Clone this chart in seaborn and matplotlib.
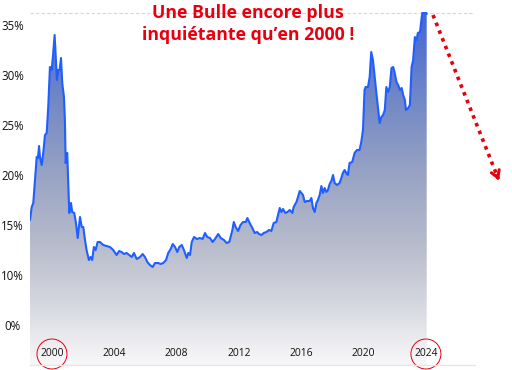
import numpy as np
import pandas as pd
import matplotlib
matplotlib.use("Agg")
import matplotlib.pyplot as plt
import seaborn as sns
from matplotlib.colors import LinearSegmentedColormap
from matplotlib.patches import Ellipse
from matplotlib.lines import Line2D
from matplotlib.transforms import IdentityTransform

years = [
    1998.59, 1998.70, 1998.80, 1998.91, 1999.02, 1999.10, 1999.17, 1999.23, 1999.34, 1999.44,
    1999.55, 1999.66, 1999.76, 1999.87, 1999.98, 2000.08, 2000.17, 2000.26, 2000.32, 2000.40,
    2000.49, 2000.58, 2000.66, 2000.77, 2000.83, 2000.88, 2000.98, 2001.04, 2001.11, 2001.22,
    2001.30, 2001.43, 2001.54, 2001.65, 2001.80, 2001.91, 2002.01, 2002.12, 2002.22, 2002.37,
    2002.48, 2002.58, 2002.69, 2002.80, 2002.93, 2003.08,
    2003.29, 2003.51, 2003.72, 2003.93, 2004.15, 2004.31, 2004.47, 2004.62, 2004.79, 2004.96,
    2005.12, 2005.26, 2005.44, 2005.65, 2005.82, 2005.97, 2006.12, 2006.29, 2006.46, 2006.61,
    2006.82, 2006.98, 2007.14, 2007.32, 2007.46, 2007.62, 2007.75, 2007.90, 2008.04, 2008.17,
    2008.33, 2008.47, 2008.65, 2008.75, 2008.86, 2008.97, 2009.12, 2009.29, 2009.50, 2009.67,
    2009.82, 2009.97, 2010.14, 2010.31, 2010.46, 2010.67, 2010.83, 2011.04, 2011.21, 2011.38,
    2011.58, 2011.67, 2011.79, 2011.94, 2012.10, 2012.26, 2012.44, 2012.54, 2012.69, 2012.86,
    2013.01, 2013.16, 2013.29, 2013.44, 2013.59, 2013.76, 2013.93, 2014.08, 2014.23, 2014.40,
    2014.51, 2014.62, 2014.72, 2014.83, 2014.98, 2015.11, 2015.26, 2015.43, 2015.51, 2015.69,
    2015.79, 2015.90, 2016.01, 2016.11, 2016.22, 2016.37, 2016.54, 2016.65, 2016.75, 2016.86,
    2016.97, 2017.07, 2017.18, 2017.29, 2017.39, 2017.50, 2017.61, 2017.71, 2017.82, 2017.93,
    2018.04, 2018.14, 2018.29, 2018.46,
    2018.57, 2018.67, 2018.78, 2018.89, 2018.99, 2019.10, 2019.27, 2019.42, 2019.57, 2019.74,
    2019.85, 2019.96, 2020.06, 2020.13, 2020.28, 2020.39, 2020.49, 2020.60, 2020.71, 2020.82,
    2020.92, 2021.03, 2021.14, 2021.25, 2021.36, 2021.46, 2021.57, 2021.68, 2021.79, 2021.90,
    2022.00, 2022.11, 2022.22, 2022.33, 2022.44, 2022.54, 2022.65, 2022.72, 2022.86, 2022.97,
    2023.08, 2023.18, 2023.29, 2023.40, 2023.48, 2023.62, 2023.73, 2023.79, 2023.88, 2023.96,
    2024.05,
]
values = [
    15.5, 16.8, 17.2, 19.5, 21.8, 21.7, 22.9, 21.8, 21.0, 22.2,
    24.0, 24.2, 26.8, 30.8, 30.5, 32.2, 34.0, 31.2, 29.5, 30.5,
    30.5, 31.7, 29.2, 27.8, 25.5, 21.2, 22.2, 19.5, 16.2, 17.2,
    16.3, 16.2, 15.2, 13.7, 15.8, 14.8, 14.8, 13.5, 12.5, 11.5,
    11.8, 11.5, 12.8, 12.5, 13.3, 13.3,
    13.0, 12.9, 12.8, 12.5, 12.0, 12.4, 12.3, 12.1, 12.2, 12.0,
    11.8, 12.2, 11.6, 11.8, 12.1, 11.8, 11.3, 11.0, 10.8, 11.2,
    11.2, 11.1, 11.2, 11.5, 12.2, 12.6, 13.1, 12.8, 12.3, 12.8,
    13.0, 12.5, 11.7, 12.2, 12.0, 13.3, 13.8, 13.6, 13.7, 13.6,
    14.2, 13.8, 13.7, 13.3, 13.6, 14.1, 13.7, 13.5, 13.2, 13.3,
    14.5, 15.3, 14.8, 14.4, 15.0, 15.3, 15.3, 15.7, 15.2, 14.7,
    14.2, 14.3, 14.1, 14.0, 14.2, 14.3, 14.5, 14.4, 15.2, 15.3,
    16.0, 16.7, 16.3, 16.6, 16.2, 16.3, 16.5, 16.2, 16.8, 17.3,
    17.8, 18.4, 18.2, 18.0, 17.3, 17.4, 17.4, 17.7, 16.7, 16.3,
    17.2, 17.5, 18.0, 18.9, 18.2, 18.7, 18.3, 18.5, 19.1, 19.4,
    20.0, 19.2, 19.0, 19.2,
    19.7, 20.2, 20.5, 20.2, 20.0, 21.2, 21.3, 22.2, 22.5, 22.5,
    23.3, 24.5, 28.5, 28.8, 28.8, 29.8, 32.3, 31.5, 29.8, 28.2,
    26.8, 25.2, 25.8, 26.0, 26.5, 28.8, 28.3, 28.8, 30.7, 30.8,
    30.2, 29.3, 29.0, 28.5, 28.7, 28.0, 27.5, 26.5, 26.7, 27.0,
    30.8, 31.5, 33.8, 33.5, 34.2, 34.3, 35.8, 36.4, 36.2, 36.4,
    36.1,
]
y_ticks = [0, 10, 15, 20, 25, 30, 35]
y_tick_labels = ["0%", "10%", "15%", "20%", "25%", "30%", "35%"]
x_ticks = [2000, 2004, 2008, 2012, 2016, 2020, 2024]
x_tick_labels = ["2000", "2004", "2008", "2012", "2016", "2020", "2024"]
circled_years = [2000, 2024]
title = "Une Bulle encore plus\ninquiétante qu’en 2000 !"

sns.set_style("white")
plt.rcParams["font.family"] = ["Open Sans", "DejaVu Sans"]

W, H = 512, 370
fig = plt.figure(figsize=(W / 100, H / 100), dpi=100)
ax = fig.add_axes([30 / W, 1 - 365 / H, 445 / W, 353 / H])
ax.set_axisbelow(False)


def fwd(v):
    v = np.asarray(v, dtype=float)
    return np.where(v < 10, v / 2.0, v - 5.0)


def inv(u):
    u = np.asarray(u, dtype=float)
    return np.where(u < 5, u * 2.0, u + 5.0)


ax.set_yscale("function", functions=(fwd, inv))

df = pd.DataFrame({"year": years, "value": values})

ymin, ymax = -8.0, 36.3
poly = ax.fill_between(df["year"], df["value"], ymin, color="none", lw=0)
cmap = LinearSegmentedColormap.from_list(
    "g",
    [(0.0, "#f8f8f9"), (0.07, "#ebebef"), (0.18, "#d4d6de"), (0.33, "#b9bdcc"),
     (0.54, "#98a3c4"), (0.75, "#7288c6"), (1.0, "#4366d6")],
)
grad = np.linspace(0, 1, 256).reshape(-1, 1)
im = ax.imshow(grad, extent=[0, 1, 0, 1], transform=ax.transAxes, origin="lower",
               cmap=cmap, aspect="auto", zorder=1, interpolation="bilinear")
im.set_clip_path(poly.get_paths()[0], transform=ax.transData)

sns.lineplot(data=df, x="year", y="value", color="#1f5fff", lw=1.5, ax=ax, zorder=3)

ax.axhline(36.2, color="#c9d8f5", ls=(0, (3, 2)), lw=0.8, zorder=0)

ax.set_xlim(1998.59, 2027.15)
ax.set_ylim(ymin, ymax)
ax.set_yticks(y_ticks)
ax.set_yticklabels(y_tick_labels)
ax.set_xticks(x_ticks)
ax.set_xticklabels(x_tick_labels)
ax.set_xlabel("")
ax.set_ylabel("")
for s in ax.spines.values():
    s.set_visible(False)
ax.grid(False)
ax.xaxis.set_zorder(6)
ax.tick_params(axis="y", length=0, pad=12.6, labelsize=8.3, labelcolor="#111111")
for lab in ax.get_yticklabels():
    lab.set_ha("center")
ax.tick_params(axis="x", length=0, pad=-12.5, labelsize=7.4, labelcolor="#111111")

# bottom baseline
fig.add_artist(Line2D([30 / W, 475 / W], [1 - 365 / H] * 2, transform=fig.transFigure,
                      color="#e6e6e6", lw=1))

# title
fig.text(248 / W, 1 - 24 / H, title, ha="center", va="center", color="#e8000f",
         fontsize=12.8, fontweight="bold", linespacing=1.25)

# circles around selected year labels
for yr in circled_years:
    xd = ax.transData.transform((yr, 10))[0]
    fig.add_artist(Ellipse((xd, H - 354), 30, 30, transform=IdentityTransform(),
                           fill=False, edgecolor="#e8000f", lw=0.7))

# dotted arrow
x0, y0 = 433 / W, 1 - 15 / H
x1, y1 = 498 / W, 1 - 178 / H
fig.add_artist(Line2D([x0, x1], [y0, y1], transform=fig.transFigure, color="#e8000f",
                      lw=2.6, ls=(0, (1, 1.3))))
ax.annotate("", xy=(500 / W, 1 - 183 / H), xytext=(496 / W, 1 - 173 / H),
            xycoords="figure fraction", textcoords="figure fraction",
            arrowprops=dict(arrowstyle="->, head_length=0.5, head_width=0.3",
                            color="#e8000f", lw=2.2))

fig.savefig("out.png", dpi=100)
